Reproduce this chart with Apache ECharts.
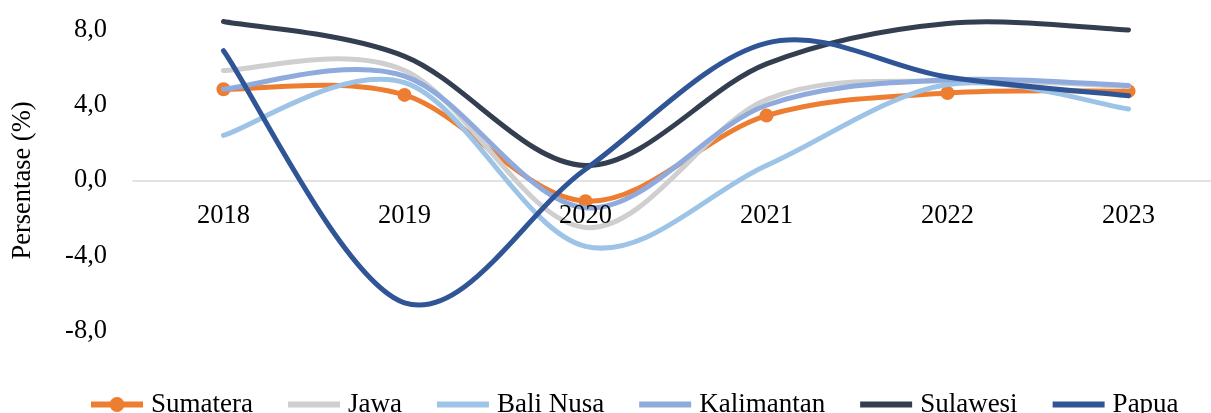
<!DOCTYPE html>
<html>
<head>
<meta charset="utf-8">
<script src="https://cdn.jsdelivr.net/npm/echarts@6/dist/echarts.min.js"></script>
<style>
html,body{margin:0;padding:0;background:#fff;}
#chart{width:1211px;height:413px;}
</style>
</head>
<body>
<div id="chart"></div>
<script>
const categories = ['2018', '2019', '2020', '2021', '2022', '2023'];
const sumatera   = [4.85, 4.55, -1.1, 3.45, 4.65, 4.75];
const jawa       = [5.85, 5.85, -2.5, 4.3, 5.3, 5.0];
const baliNusa   = [2.4, 5.2, -3.5, 0.8, 5.1, 3.8];
const kalimantan = [4.85, 5.55, -1.45, 4.0, 5.35, 5.05];
const sulawesi   = [8.45, 6.6, 0.8, 6.2, 8.35, 8.0];
const papua      = [6.9, -6.5, 0.6, 7.3, 5.5, 4.5];
const seriesNames = ['Sumatera', 'Jawa', 'Bali Nusa', 'Kalimantan', 'Sulawesi', 'Papua'];
const yTicks = [-8, -4, 0, 4, 8];

const FONT = '"Liberation Serif", "Times New Roman", serif';
const colors = ['#ED7D31', '#CFCFCF', '#9DC3E6', '#8FAADC', '#333F50', '#2F5597'];
const dataSets = [sumatera, jawa, baliNusa, kalimantan, sulawesi, papua];

// Excel-like smoothed curve (Catmull-Rom style Bezier in screen space)
function ctrlArm(pa, pb, segA, segB) {
  let ax = (pb[0] - pa[0]) / 6, ay = (pb[1] - pa[1]) / 6;
  const armLen = Math.hypot(ax, ay);
  const segLen = Math.hypot(segB[0] - segA[0], segB[1] - segA[1]);
  if (armLen > segLen / 2 && armLen > 0) {
    const k = (segLen / 2) / armLen;
    ax *= k; ay *= k;
  }
  return [ax, ay];
}
function makeRender(vals, color, withMarkers) {
  return function (params, api) {
    if (params.dataIndex !== 0) return null;
    const pts = vals.map((v, i) => api.coord([i, v]));
    let d = 'M' + pts[0][0] + ' ' + pts[0][1];
    for (let i = 0; i < pts.length - 1; i++) {
      const p0 = pts[i - 1] || pts[i];
      const p1 = pts[i];
      const p2 = pts[i + 1];
      const p3 = pts[i + 2] || pts[i + 1];
      const a1 = ctrlArm(p0, p2, p1, p2);
      const a2 = ctrlArm(p1, p3, p1, p2);
      const c1 = [p1[0] + a1[0], p1[1] + a1[1]];
      const c2 = [p2[0] - a2[0], p2[1] - a2[1]];
      d += ' C' + c1[0] + ' ' + c1[1] + ' ' + c2[0] + ' ' + c2[1] + ' ' + p2[0] + ' ' + p2[1];
    }
    const children = [{
      type: 'path',
      shape: { pathData: d },
      style: { stroke: color, fill: 'none', lineWidth: 5, lineCap: 'round', lineJoin: 'round' }
    }];
    if (withMarkers) {
      pts.forEach(p => children.push({
        type: 'circle',
        shape: { cx: p[0], cy: p[1], r: 7 },
        style: { fill: color, stroke: 'none' }
      }));
    }
    return { type: 'group', children: children };
  };
}

const series = dataSets.map((d, i) => ({
  name: seriesNames[i],
  type: 'custom',
  xAxisIndex: 0,
  data: d.map((v, j) => [j, v]),
  encode: { x: 0, y: 1 },
  renderItem: makeRender(d, colors[i], i === 0),
  itemStyle: { color: colors[i] },
  clip: false,
  silent: true,
  animation: false
}));

const ICON_LINE_MARK = 'path://M0 4.5 L52 4.5 L52 10.5 L0 10.5 Z M18.5 7.5 A7.5 7.5 0 1 1 33.5 7.5 A7.5 7.5 0 1 1 18.5 7.5 Z';
const ICON_LINE = 'path://M0 0 L52 0 L52 6 L0 6 Z';

const chart = echarts.init(document.getElementById('chart'), null, { renderer: 'canvas' });
chart.setOption({
  animation: false,
  color: colors,
  textStyle: { fontFamily: FONT },
  grid: { left: 133, top: 30, width: 1086, height: 301, containLabel: false, outerBoundsMode: 'none' },
  legend: {
    left: 86,
    top: 386,
    itemWidth: 52,
    itemHeight: 15,
    itemGap: 35,
    symbolKeepAspect: true,
    textStyle: { fontFamily: FONT, fontSize: 27, color: '#000', padding: [0, 0, 0, 3] },
    data: seriesNames.map((n, i) => ({ name: n, icon: i === 0 ? ICON_LINE_MARK : ICON_LINE }))
  },
  xAxis: [{
    type: 'category',
    data: categories,
    boundaryGap: true,
    offset: -150.5,
    z: 0,
    axisLine: { show: true, onZero: false, lineStyle: { color: '#D9D9D9', width: 1.5 } },
    axisTick: { show: false },
    axisLabel: { show: false },
    splitLine: { show: false }
  }, {
    type: 'category',
    data: categories,
    boundaryGap: true,
    position: 'bottom',
    offset: -150.5,
    z: 10,
    axisLine: { show: false, onZero: false },
    axisTick: { show: false },
    axisLabel: { color: '#000', fontFamily: FONT, fontSize: 26.5, margin: 22 },
    splitLine: { show: false }
  }],
  yAxis: {
    type: 'value',
    min: yTicks[0],
    max: yTicks[yTicks.length - 1],
    interval: 4,
    name: 'Persentase (%)',
    nameLocation: 'middle',
    nameRotate: 90,
    nameGap: 96,
    nameTextStyle: { color: '#000', fontFamily: FONT, fontSize: 26.5 },
    axisLine: { show: false },
    axisTick: { show: false },
    splitLine: { show: false },
    axisLabel: {
      color: '#000', fontFamily: FONT, fontSize: 26.5, margin: 26,
      formatter: v => v.toFixed(1).replace('.', ',')
    }
  },
  series: series
});
</script>
</body>
</html>
